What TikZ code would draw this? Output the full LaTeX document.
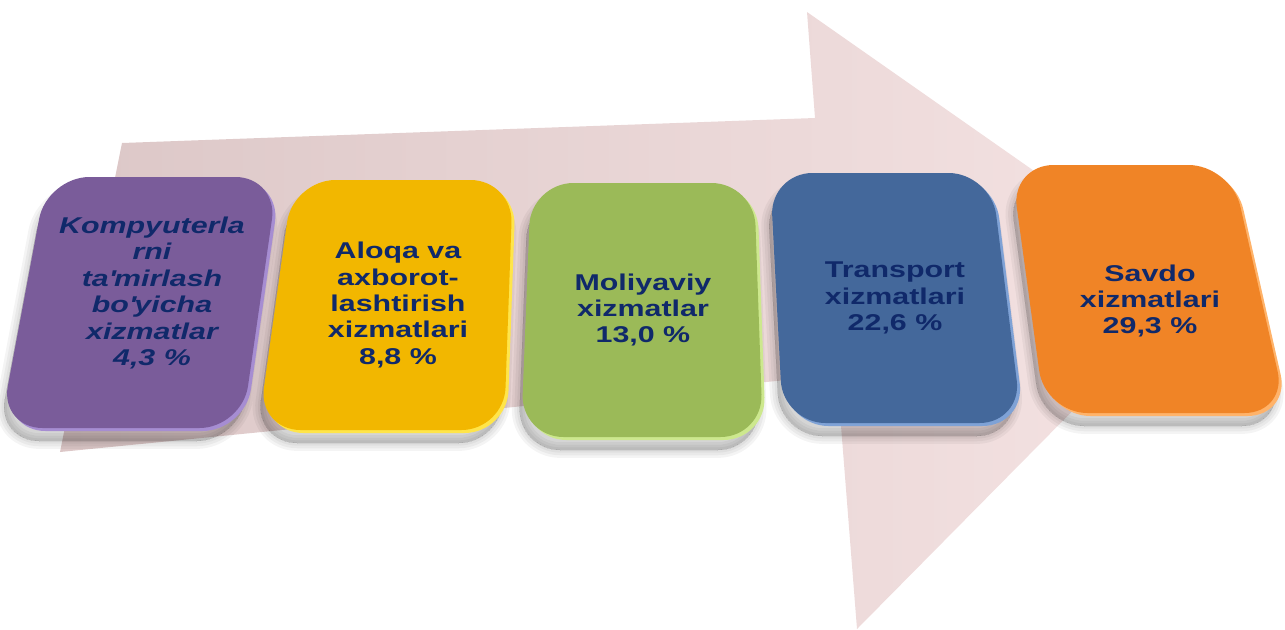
\documentclass[tikz,border=0pt]{standalone}
\usepackage{fontspec}
\setmainfont{Liberation Sans}
\newfontfamily\boxfont[FakeStretch=1.33]{Liberation Sans}
\usetikzlibrary{calc}
\definecolor{txt}{HTML}{10296A}
\definecolor{arrowL}{HTML}{DCC7C7}
\definecolor{arrowR}{HTML}{F5E3E3}
\definecolor{purpleF}{HTML}{7A5C9A}
\definecolor{purpleR}{HTML}{A68DD2}
\definecolor{yellowF}{HTML}{F2B700}
\definecolor{yellowR}{HTML}{FFE54A}
\definecolor{greenF}{HTML}{9BBA58}
\definecolor{greenR}{HTML}{CDE88E}
\definecolor{blueF}{HTML}{44689B}
\definecolor{blueR}{HTML}{7FA2D6}
\definecolor{orangeF}{HTML}{F08426}
\definecolor{orangeR}{HTML}{FFB36A}
\newcommand\cardpath[1]{($(#1tl)!0.5!(#1tr)$) -- (#1tr) -- (#1br) -- (#1bl) -- (#1tl) -- cycle}
\tikzset{
  cardtext/.style={text=txt, align=center, font=\boxfont\bfseries\fontsize{13}{15}\selectfont, inner sep=0pt},
  cardshade/.style={rounded corners=0.85cm},
}
\begin{document}
\begin{tikzpicture}[x=0.02cm,y=-0.02cm]
\useasboundingbox (0,0) rectangle (1285,629);
% big arrow
\path[left color=arrowL,right color=arrowR]
  (122,143) -- (815,118) -- (807,12) -- (1197,285) -- (857,629) -- (837,375) -- (60,452) -- cycle;
% corner coordinates
\coordinate (atl) at (50,180);  \coordinate (atr) at (281,180); \coordinate (abr) at (245,431);  \coordinate (abl) at (3,431);
\coordinate (btl) at (296,183); \coordinate (btr) at (516,183); \coordinate (bbr) at (507,433);  \coordinate (bbl) at (261,433);
\coordinate (ctl) at (534,186); \coordinate (ctr) at (757,186); \coordinate (cbr) at (766,440);  \coordinate (cbl) at (524,440);
\coordinate (dtl) at (773,176); \coordinate (dtr) at (994,176); \coordinate (dbr) at (1025,426); \coordinate (dbl) at (786,426);
\coordinate (etl) at (1014,168);\coordinate (etr) at (1234,168);\coordinate (ebr) at (1290,416); \coordinate (ebl) at (1048,416);
% shadows (soft)
\begin{scope}[transform canvas={shift={(-6,10)}}]
\foreach \c in {a,b,c,d,e}{
  \foreach \w in {9,6,3,0}{
    \filldraw[black,opacity=0.045,line width=\w pt,cardshade] \cardpath{\c};
  }
}
\end{scope}
% cards: rim
\foreach \c/\r in {a/purpleR,b/yellowR,c/greenR,d/blueR,e/orangeR}{
  \fill[\r,cardshade] \cardpath{\c};
}
% cards: face
\begin{scope}[transform canvas={shift={(-3,-3)}}]
\foreach \c/\f in {a/purpleF,b/yellowF,c/greenF,d/blueF,e/orangeF}{
  \fill[\f,cardshade] \cardpath{\c};
}
\end{scope}
% texts
\node[cardtext,font=\boxfont\bfseries\itshape\fontsize{13}{15}\selectfont] (t1) at (152,293)
  {Kompyuterla\\rni\\ta\textquotesingle mirlash\\bo\textquotesingle yicha\\xizmatlar\\4,3 \%};
\node[cardtext] (t2) at (398,305) {Aloqa va\\axborot-\\lashtirish\\xizmatlari\\8,8 \%};
\node[cardtext] (t3) at (643,310) {Moliyaviy\\xizmatlar\\13,0 \%};
\node[cardtext] (t4) at (895,298) {Transport\\xizmatlari\\22,6 \%};
\node[cardtext] (t5) at (1150,301) {Savdo\\xizmatlari\\29,3 \%};
\end{tikzpicture}
\end{document}
